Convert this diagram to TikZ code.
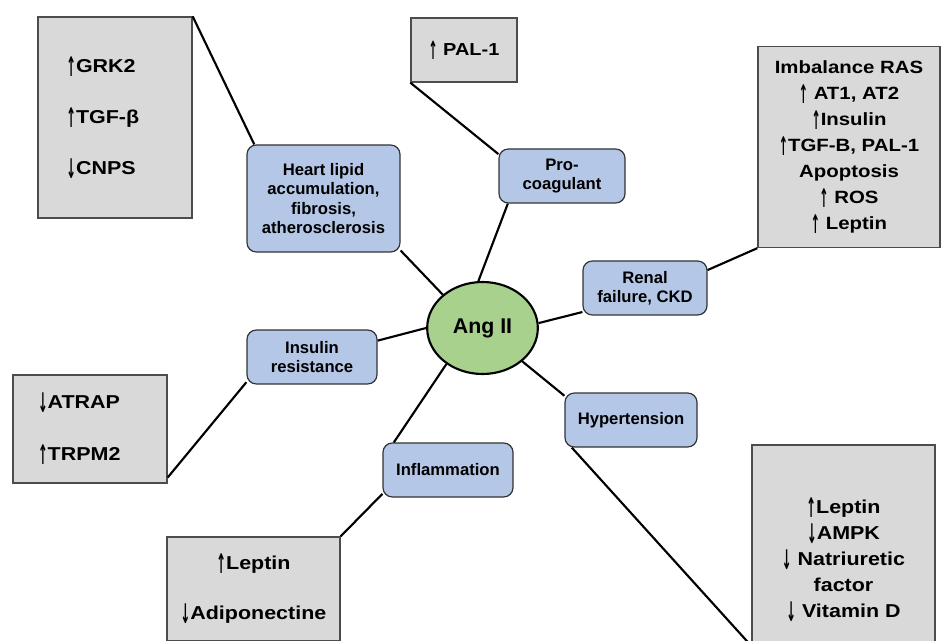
\documentclass[tikz,border=0pt]{standalone}
\usepackage{graphicx}
\usepackage{fontspec}
\setmainfont{Liberation Sans}
\newfontfamily\panelfont[FakeStretch=1.15]{Liberation Sans}
\newfontfamily\arrowfont{DejaVu Sans}
\usetikzlibrary{shapes.geometric}
\definecolor{blueB}{HTML}{B4C7E7}
\definecolor{greenB}{HTML}{A9D18E}
\definecolor{grayB}{HTML}{D9D9D9}
\newcommand{\upa}{\raisebox{-0.4ex}{\scalebox{0.62}[1.45]{\arrowfont\bfseries ↑}}}
\newcommand{\dna}{\raisebox{-0.4ex}{\scalebox{0.62}[1.45]{\arrowfont\bfseries ↓}}}

\begin{document}
\begin{tikzpicture}[x=0.75pt, y=-0.75pt,
  panel/.style={draw=black!70, line width=1pt, fill=grayB, inner sep=0pt, align=center,
    font=\panelfont\bfseries\fontsize{14}{19.5}\selectfont},
  effect/.style={draw=black!80, line width=0.9pt, fill=blueB, rounded corners=7pt, align=center,
    inner sep=2pt, minimum height=40.5pt, font=\fontsize{12.5}{14.5}\selectfont\bfseries},
  hub/.style={ellipse, draw=black, line width=1.6pt, fill=greenB, minimum width=83pt,
    minimum height=69pt, font=\fontsize{16}{18}\selectfont\bfseries},
  link/.style={line width=1.6pt, black}]
\clip (0,0) rectangle (942,641);
% centre
\node[hub] (ang) at (482.5,328) {Ang II};
% effects
\node[effect, minimum width=114.75pt, minimum height=80.25pt] (heart) at (323.5,198.5) {Heart lipid\\accumulation,\\fibrosis,\\atherosclerosis};
\node[effect, minimum width=94.5pt] (procoag) at (562,176) {Pro-\\coagulant};
\node[effect, minimum width=93pt] (renal) at (645,288) {Renal\\failure, CKD};
\node[effect, minimum width=97.5pt] (insulin) at (312,357) {Insulin\\resistance};
\node[effect, minimum width=97.5pt] (inflam) at (448,470) {Inflammation};
\node[effect, minimum width=99pt] (hyper) at (631,420) {Hypertension};
% markers
\node[panel, minimum width=115.5pt, minimum height=150.75pt, text width=73pt, align=left] (grk) at (115,117.5) {\upa GRK2\\[19pt] \upa TGF-β\\[19pt] \dna CNPS};
\node[panel, minimum width=79.5pt, minimum height=48pt, font=\panelfont\bfseries\fontsize{13}{16}\selectfont] (pal) at (464,50) {\upa\ PAL-1};
\node[panel, minimum width=136.5pt, minimum height=150.75pt, font=\panelfont\bfseries\fontsize{13.3}{19.5}\selectfont] (ras) at (849,147) {Imbalance RAS\\\upa\ AT1, AT2\\\upa Insulin\\\upa TGF-B, PAL-1\\Apoptosis\\\upa\ ROS\\\upa\ Leptin};
\node[panel, minimum width=115.5pt, minimum height=81pt, text width=78pt, align=left] (atrap) at (90,429) {\dna ATRAP\\[19.5pt] \upa TRPM2};
\node[panel, minimum width=129.75pt, minimum height=78pt] (adipo) at (253.5,589) {\upa Leptin\\[18pt] \dna Adiponectine};
\node[panel, minimum width=137.25pt, minimum height=172.5pt] (vitd) at (843.5,560) {\upa Leptin\\\dna AMPK\\\dna\ Natriuretic\\factor\\\dna\ Vitamin D};
% links
\draw[link] (grk.north east) -- (heart.142);
\draw[link] (heart.-34) -- (ang.140);
\draw[link] (pal.south west) -- (procoag.161);
\draw[link] (procoag.207) -- (ang.95);
\draw[link] (ang.5) -- (renal.201);
\draw[link] (renal.16) -- (ras.south west);
\draw[link] (ang.180) -- (insulin.14);
\draw[link] (insulin.201) -- (atrap.-32);
\draw[link] (ang.225) -- (inflam.153);
\draw[link] (inflam.200) -- (adipo.north east);
\draw[link] (ang.-40) -- (hyper.160);
\draw[link] (hyper.205) -- (vitd.223);
\end{tikzpicture}
\end{document}
